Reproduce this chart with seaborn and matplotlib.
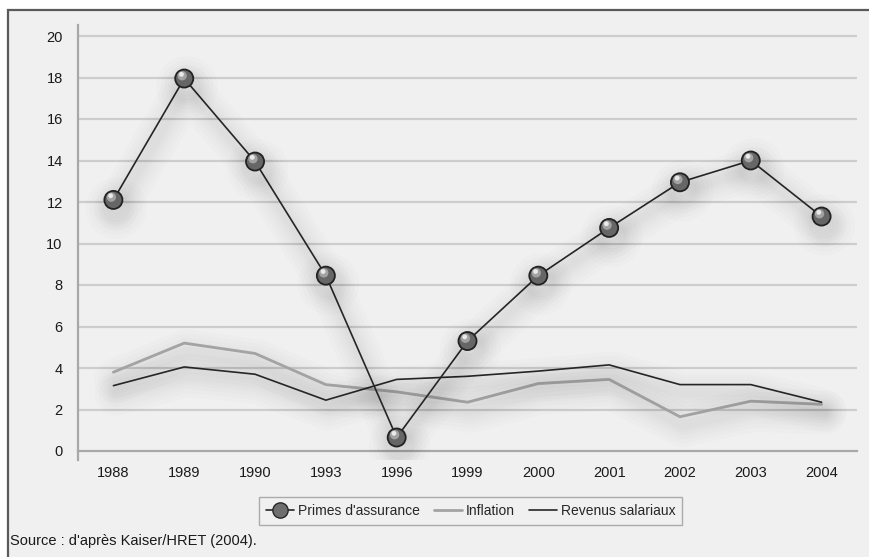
import numpy as np
import pandas as pd
import matplotlib.pyplot as plt
import matplotlib.patheffects as pe
import matplotlib.transforms as mtrans
from matplotlib.patches import Rectangle
from matplotlib.lines import Line2D
import seaborn as sns

# --- Données ---
annees = ['1988', '1989', '1990', '1993', '1996', '1999', '2000', '2001', '2002', '2003', '2004']
primes = [12.1, 17.95, 13.95, 8.45, 0.65, 5.3, 8.45, 10.75, 12.95, 14.0, 11.3]
inflation = [3.8, 5.2, 4.7, 3.2, 2.85, 2.35, 3.25, 3.45, 1.65, 2.4, 2.25]
revenus = [3.15, 4.05, 3.7, 2.45, 3.45, 3.6, 3.85, 4.15, 3.2, 3.2, 2.35]
y_ticks = [0, 2, 4, 6, 8, 10, 12, 14, 16, 18, 20]

df = pd.DataFrame({'annee': annees, 'Primes': primes,
                   'Inflation': inflation, 'Revenus': revenus})

sns.set_style('white')
plt.rcParams['font.family'] = ['Liberation Sans Narrow', 'Liberation Sans', 'DejaVu Sans']

BG = '#f0f0f0'
fig = plt.figure(figsize=(8.7, 5.57), dpi=100, facecolor='white')
# cadre gris autour du graphique
fig.patches.append(Rectangle((8 / 870, -0.01), 1.0, 1 - 10 / 557 + 0.01,
                             transform=fig.transFigure, facecolor=BG,
                             edgecolor='#5a5a5a', linewidth=1.6, zorder=-5))

ax = fig.add_axes([78 / 870, 1 - 460 / 557, (857 - 78) / 870, (460 - 25) / 557])
ax.set_facecolor('none')

def ombre(w):
    # ombre douce : plusieurs traits larges très transparents
    effets = [pe.SimpleLineShadow(offset=(2, -6), shadow_color='k', alpha=0.012,
                                  linewidth=w + k) for k in (30, 24, 18, 13, 9, 5)]
    return effets + [pe.Normal()]

sns.lineplot(data=df, x='annee', y='Inflation', sort=False, ax=ax,
             color='#a3a3a3', linewidth=2.0, path_effects=ombre(2.0), zorder=3)
sns.lineplot(data=df, x='annee', y='Revenus', sort=False, ax=ax,
             color='#262626', linewidth=1.2, path_effects=ombre(1.2), zorder=4)
sns.lineplot(data=df, x='annee', y='Primes', sort=False, ax=ax,
             color='#262626', linewidth=1.2, path_effects=ombre(1.2), zorder=5,
             marker='o', markersize=13, markerfacecolor='#666666',
             markeredgecolor='#222222', markeredgewidth=1.3)
# reflet des sphères
reflet = mtrans.offset_copy(ax.transData, fig=fig, x=-1.5, y=2, units='points')
ax.scatter(df['annee'], df['Primes'], s=45, color='#bdbdbd', alpha=0.7,
           edgecolors='none', transform=reflet, zorder=6)
reflet2 = mtrans.offset_copy(ax.transData, fig=fig, x=-2, y=3, units='points')
ax.scatter(df['annee'], df['Primes'], s=12, color='#f2f2f2', alpha=0.9,
           edgecolors='none', transform=reflet2, zorder=7)

ax.set_xlim(-0.5, len(annees) - 0.5)
ax.set_ylim(-9 / 20.75, 435 / 20.75 - 9 / 20.75)
ax.set_yticks(y_ticks)
ax.set_xticks(range(len(annees)))
ax.set_xticklabels(annees)
ax.set_xticks(np.arange(-0.5, len(annees), 1), minor=True)
ax.set_xlabel('')
ax.set_ylabel('')

for v in y_ticks[1:]:
    ax.axhline(v, color='#cdcdcd', linewidth=1.6, zorder=1)

ax.spines['top'].set_visible(False)
ax.spines['right'].set_visible(False)
ax.spines['bottom'].set_position(('data', 0))
ax.spines['bottom'].set_color('#a8a8a8')
ax.spines['bottom'].set_linewidth(1.6)
ax.spines['left'].set_color('#a8a8a8')
ax.spines['left'].set_linewidth(1.6)

ax.tick_params(axis='y', length=7, width=1.2, color='#a8a8a8', pad=4,
               labelsize=10.5, labelcolor='#1a1a1a')
ax.tick_params(axis='x', which='major', length=0, pad=11,
               labelsize=10.5, labelcolor='#1a1a1a')
ax.tick_params(axis='x', which='minor', length=7, width=1.2, color='#a8a8a8')

handles = [
    Line2D([], [], color='#262626', linewidth=1.2, marker='o', markersize=11,
           markerfacecolor='#6e6e6e', markeredgecolor='#262626'),
    Line2D([], [], color='#a3a3a3', linewidth=2.0),
    Line2D([], [], color='#262626', linewidth=1.2),
]
leg = fig.legend(handles, ["Primes d'assurance", 'Inflation', 'Revenus salariaux'],
                 loc='center', bbox_to_anchor=(471 / 870, 1 - 511 / 557), ncol=3,
                 frameon=True, fancybox=False, fontsize=10, handlelength=2.0,
                 handletextpad=0.3, columnspacing=1.0, borderpad=0.5)
leg.get_frame().set_facecolor(BG)
leg.get_frame().set_edgecolor('#9a9a9a')
leg.get_frame().set_linewidth(1.0)

fig.text(10 / 870, 1 - 541 / 557, "Source : d'après Kaiser/HRET (2004).",
         ha='left', va='center', fontsize=10.5, color='#1a1a1a')

plt.savefig('out.png', dpi=100, facecolor='white')
